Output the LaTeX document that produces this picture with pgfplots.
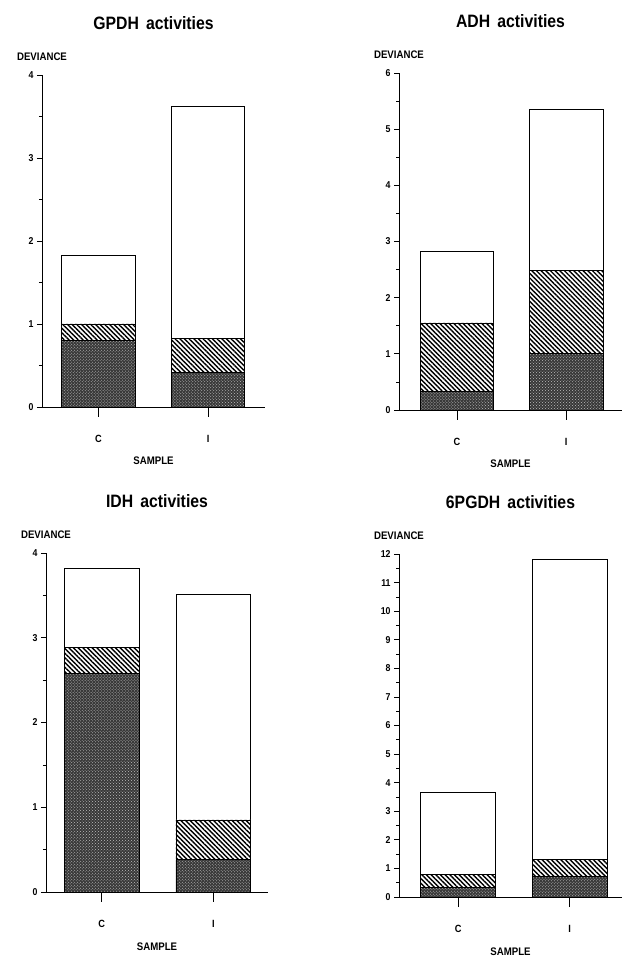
\documentclass[border=0pt]{standalone}
\usepackage{fontspec}
\setmainfont{Liberation Sans}
\newfontfamily\cfb[FakeStretch=0.88]{Liberation Sans Bold}
\usepackage{pgfplots}
\pgfplotsset{compat=1.18}
\usetikzlibrary{patterns,patterns.meta}

\pgfplotsset{
  panel/.style={
    scale only axis,
    axis lines=left,
    axis line style={-, line width=0.8bp},
    ybar stacked,
    bar width=0.67,
    xtick={0,1},
    xticklabels={C,I},
    ymin=0,
    ytick distance=1,
    minor y tick num=1,
    tick align=outside,
    tick style={black, line width=0.7bp},
    xtick style={/pgfplots/major tick length=10bp},
    ytick style={/pgfplots/major tick length=5bp},
    minor tick length=3bp,
    /pgf/number format/assume math mode=true,
    yticklabel style={font=\cfb\fontsize{10}{10}\selectfont, anchor=east, inner sep=0pt, xshift=-4bp},
    xticklabel style={font=\cfb\fontsize{10.5}{10.5}\selectfont, anchor=base, inner sep=0pt, yshift=-31bp},
    xlabel={SAMPLE},
    xlabel style={font=\cfb\fontsize{11}{11}\selectfont, at={(axis description cs:0.5,0)}, anchor=base, inner sep=0pt, yshift=-58bp},
    title style={font=\cfb\fontsize{18}{18}\selectfont, at={(axis description cs:0.5,1)}, anchor=base, inner sep=0pt, yshift=40bp},
    clip=false,
    every axis plot/.append style={draw=black, line width=0.7bp},
  },
  darkfill/.style={fill=black!78, postaction={pattern=crosshatch dots, pattern color=white!75!black}},
  hatchfill/.style={fill=white, postaction={pattern={Lines[angle=-45, distance=3.3bp, line width=1.4bp]}, pattern color=black}},
  whitefill/.style={fill=white},
}
\newcommand{\devlabel}{%
  \node[font=\cfb\fontsize{11}{11}\selectfont, anchor=base, inner sep=0pt] at (axis description cs:0,1) [yshift=14bp] {DEVIANCE};%
  \draw[line width=0.8bp] (axis description cs:0,0) -- ++(-5bp,0);}

\begin{document}
\begin{tikzpicture}[x=1bp,y=1bp]
\path[use as bounding box] (0,0) rectangle (623,957);

% GPDH
\begin{axis}[panel, at={(42bp,550bp)}, anchor=south west, width=223bp, height=332bp,
  xmin=-0.516, xmax=1.52, ymax=4, title={GPDH\hspace{0.4em}activities}]
\addplot[darkfill] coordinates {(0,0.80) (1,0.42)};
\addplot[hatchfill] coordinates {(0,0.20) (1,0.41)};
\addplot[whitefill] coordinates {(0,0.83) (1,2.79)};
\devlabel
\end{axis}

% ADH
\begin{axis}[panel, at={(399bp,547bp)}, anchor=south west, width=223bp, height=337bp,
  xmin=-0.53, xmax=1.51, ymax=6, title={ADH\hspace{0.4em}activities}]
\addplot[darkfill] coordinates {(0,0.33) (1,1.00)};
\addplot[hatchfill] coordinates {(0,1.22) (1,1.49)};
\addplot[whitefill] coordinates {(0,1.28) (1,2.87)};
\devlabel
\end{axis}

% IDH
\begin{axis}[panel, at={(46bp,65bp)}, anchor=south west, width=222bp, height=339bp,
  xmin=-0.50, xmax=1.49, ymax=4, title={IDH\hspace{0.4em}activities}]
\addplot[darkfill] coordinates {(0,2.58) (1,0.38)};
\addplot[hatchfill] coordinates {(0,0.31) (1,0.47)};
\addplot[whitefill] coordinates {(0,0.93) (1,2.66)};
\devlabel
\end{axis}

% 6PGDH
\begin{axis}[panel, at={(399bp,60bp)}, anchor=south west, width=223bp, height=343bp,
  xmin=-0.53, xmax=1.47, ymax=12, title={6PGDH\hspace{0.4em}activities}]
\addplot[darkfill] coordinates {(0,0.34) (1,0.72)};
\addplot[hatchfill] coordinates {(0,0.46) (1,0.58)};
\addplot[whitefill] coordinates {(0,2.86) (1,10.50)};
\devlabel
\end{axis}
\end{tikzpicture}
\end{document}
